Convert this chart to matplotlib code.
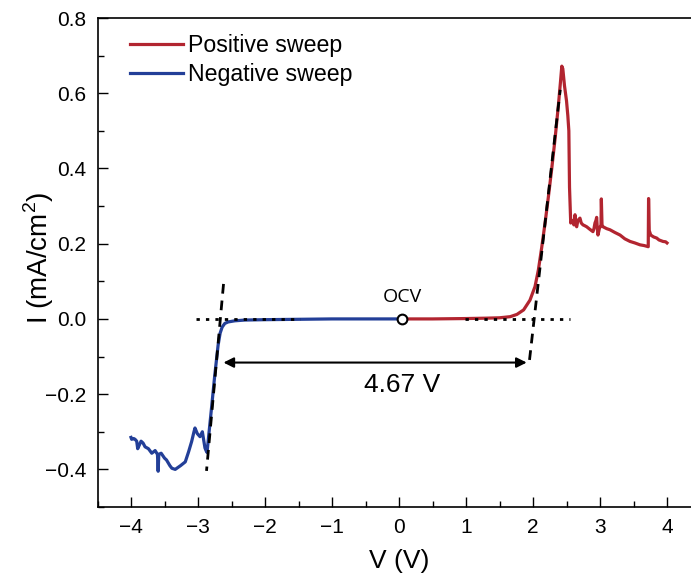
import matplotlib
matplotlib.use("Agg")
import matplotlib.pyplot as plt
from matplotlib.ticker import MultipleLocator

plt.rcParams['font.family'] = ['Liberation Sans', 'DejaVu Sans']
plt.rcParams['mathtext.fontset'] = 'custom'
plt.rcParams['mathtext.rm'] = 'Liberation Sans'

# positive sweep (OCV -> +4 V)
pos_v = [0.045, 0.5, 1.0, 1.3, 1.5, 1.66, 1.76, 1.86, 1.955, 2.03, 2.08, 2.13,
         2.18, 2.23, 2.28, 2.33, 2.38, 2.41, 2.43, 2.445, 2.47, 2.50, 2.52, 2.535,
         2.545, 2.563, 2.59, 2.61, 2.627, 2.64, 2.652, 2.67, 2.701, 2.72, 2.746,
         2.77, 2.801, 2.85, 2.895, 2.91, 2.925, 2.94, 2.95, 2.96, 2.97, 2.99,
         3.015, 3.02, 3.03, 3.045, 3.10, 3.149, 3.22, 3.299, 3.37, 3.448, 3.52,
         3.597, 3.66, 3.72, 3.725, 3.735, 3.757, 3.80, 3.846, 3.88, 3.94, 3.98, 4.0]
pos_i = [0.0, 0.0, 0.001, 0.002, 0.003, 0.006, 0.012, 0.024, 0.05, 0.086, 0.13, 0.19,
         0.255, 0.325, 0.40, 0.48, 0.57, 0.63, 0.672, 0.665, 0.62, 0.58, 0.54, 0.50,
         0.35, 0.255, 0.262, 0.25, 0.277, 0.25, 0.245, 0.262, 0.268, 0.255, 0.25,
         0.248, 0.245, 0.238, 0.232, 0.24, 0.255, 0.262, 0.27, 0.24, 0.223, 0.24,
         0.25, 0.319, 0.25, 0.245, 0.24, 0.237, 0.23, 0.223, 0.213, 0.206, 0.202,
         0.197, 0.195, 0.192, 0.32, 0.235, 0.223, 0.218, 0.215, 0.21, 0.206, 0.205, 0.202]

# negative sweep (OCV -> -4 V)
neg_v = [0.045, -0.5, -1.0, -1.5, -2.0, -2.3, -2.45, -2.55, -2.6, -2.64, -2.67,
         -2.70, -2.75, -2.80, -2.84, -2.865, -2.88, -2.896, -2.935, -2.97, -3.01,
         -3.045, -3.06, -3.095, -3.14, -3.19, -3.26, -3.34, -3.39, -3.42, -3.47,
         -3.50, -3.55, -3.585, -3.595, -3.605, -3.64, -3.69, -3.74, -3.79, -3.82,
         -3.85, -3.875, -3.90, -3.915, -3.94, -3.96, -3.99, -4.0]
neg_i = [0.0, 0.0, 0.0, -0.001, -0.002, -0.003, -0.005, -0.008, -0.012, -0.022, -0.038,
         -0.07, -0.15, -0.24, -0.31, -0.355, -0.35, -0.343, -0.30, -0.313, -0.305,
         -0.29, -0.30, -0.326, -0.353, -0.38, -0.39, -0.40, -0.397, -0.39, -0.375,
         -0.37, -0.357, -0.36, -0.405, -0.36, -0.35, -0.357, -0.345, -0.34, -0.33,
         -0.325, -0.335, -0.345, -0.325, -0.32, -0.318, -0.32, -0.315]

# tangent / baseline construction lines
tan_neg_v = [-2.619, -2.873]
tan_neg_i = [0.093, -0.404]
tan_pos_v = [1.948, 2.406]
tan_pos_i = [-0.109, 0.609]
base_neg_v = [-3.03, -1.48]
base_pos_v = [0.985, 2.55]
ocv_v = 0.045
gap_v = [-2.62, 1.906]
gap_i = -0.116

red = '#b22530'
blue = '#233f98'

fig = plt.figure(figsize=(6.91, 5.77), dpi=100)
ax = fig.add_axes([97.5 / 691, 70 / 577, 603 / 691, 489 / 577])

ax.plot(pos_v, pos_i, color=red, lw=2.3, label='Positive sweep', zorder=3)
ax.plot(neg_v, neg_i, color=blue, lw=2.3, label='Negative sweep', zorder=3)

ax.plot(tan_neg_v, tan_neg_i, color='black', ls=(0, (3.5, 2.5)), lw=2, zorder=4)
ax.plot(tan_pos_v, tan_pos_i, color='black', ls=(0, (3.5, 2.5)), lw=2, zorder=4)
ax.plot(base_neg_v, [0, 0], color='black', ls=(0, (1.2, 2.2)), lw=2, zorder=4)
ax.plot(base_pos_v, [0, 0], color='black', ls=(0, (1.2, 2.2)), lw=2, zorder=4)

ax.plot([ocv_v], [0], marker='o', ms=7, mfc='white', mec='black', mew=1.5, zorder=5)
ax.text(ocv_v, 0.035, 'OCV', ha='center', va='bottom', fontsize=14,
        family=['Open Sans', 'DejaVu Sans'])

ax.annotate('', xy=(gap_v[0], gap_i), xytext=(gap_v[1], gap_i),
            arrowprops=dict(arrowstyle='<|-|>', color='black', lw=1.5,
                            mutation_scale=15, shrinkA=0, shrinkB=0))
ax.text(0.05, -0.176, '4.67 V', ha='center', va='center', fontsize=19)

ax.set_xlim(-4.5, 4.5)
ax.set_ylim(-0.5, 0.8)
ax.xaxis.set_major_locator(MultipleLocator(1))
ax.xaxis.set_minor_locator(MultipleLocator(0.5))
ax.yaxis.set_major_locator(MultipleLocator(0.2))
ax.yaxis.set_minor_locator(MultipleLocator(0.1))
ax.set_xticks(range(-4, 5))
ax.set_xticklabels(['\u22124', '\u22123', '\u22122', '\u22121', '0', '1', '2', '3', '4'])
ax.set_yticks([-0.4, -0.2, 0.0, 0.2, 0.4, 0.6, 0.8])
ax.set_yticklabels(['\u22120.4', '\u22120.2', '0.0', '0.2', '0.4', '0.6', '0.8'])
ax.tick_params(which='major', direction='in', length=7, width=1, labelsize=15, pad=8)
ax.tick_params(which='minor', direction='in', length=4, width=1)
for s in ax.spines.values():
    s.set_linewidth(1.2)

ax.set_xlabel('V (V)', fontsize=19)
ax.set_ylabel(r'I (mA/cm$^{2}$)', fontsize=20)
ax.xaxis.set_label_coords(0.5, -0.086)
ax.yaxis.set_label_coords(-0.068, 0.509)

ax.legend(loc='upper left', frameon=False, fontsize=16.7, handlelength=2.3,
          handletextpad=0.2, labelspacing=0.25, borderaxespad=0,
          bbox_to_anchor=(0.0385, 0.986))

fig.savefig('out.png', dpi=100)
